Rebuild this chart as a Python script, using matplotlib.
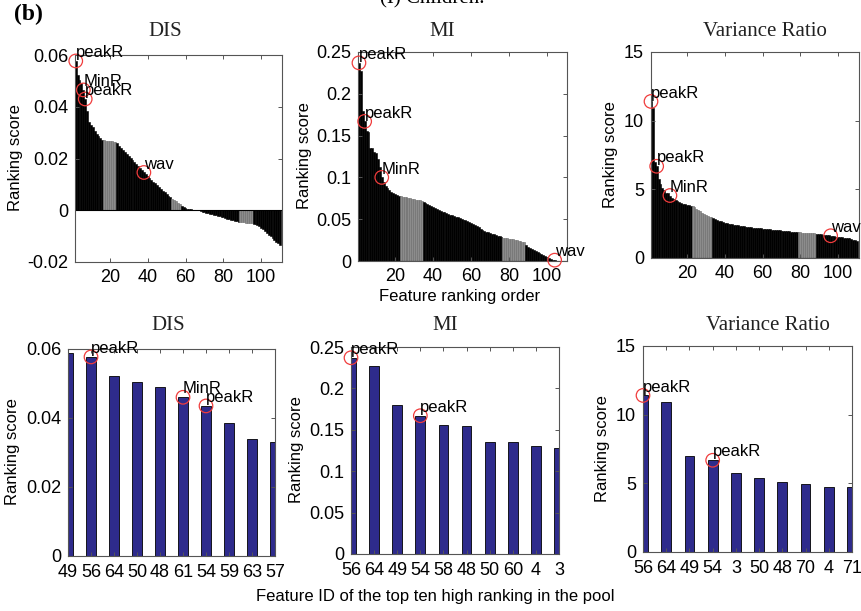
import numpy as np
import matplotlib
matplotlib.use('Agg')
import matplotlib.pyplot as plt

W, H = 862, 611

# ranking score of the whole feature pool, sorted (rank 1..110)
dis_scores = [
    0.0588, 0.0577, 0.0521, 0.0505, 0.0490, 0.0465, 0.0430, 0.0385, 0.0340, 0.0330,
    0.0322, 0.0308, 0.0296, 0.0287, 0.0279, 0.0273,
    0.0270, 0.0269, 0.0268, 0.0267, 0.0266, 0.0265, 0.0264,
    0.0258, 0.0250, 0.0242, 0.0234, 0.0226, 0.0218, 0.0210, 0.0202, 0.0194, 0.0186,
    0.0178, 0.0170, 0.0162, 0.0154, 0.0146, 0.0139, 0.0132, 0.0125, 0.0118, 0.0111,
    0.0104, 0.0097, 0.0090, 0.0083, 0.0076, 0.0069, 0.0062, 0.0056, 0.0050,
    0.0045, 0.0040, 0.0035, 0.0029, 0.0023,
    0.0018, 0.0013, 0.0009, 0.0006, 0.0004, 0.0003, 0.0002, 0.0001, 0.0001, 0.0000,
    -0.0003, -0.0006, -0.0008, -0.0010, -0.0012, -0.0014, -0.0016, -0.0018, -0.0020,
    -0.0022, -0.0024, -0.0026, -0.0028,
    -0.0030, -0.0032, -0.0034, -0.0036, -0.0038, -0.0040, -0.0042, -0.0044,
    -0.0045, -0.0046, -0.0047, -0.0048, -0.0049, -0.0050, -0.0051,
    -0.0053, -0.0055, -0.0058, -0.0062, -0.0067, -0.0073, -0.0080, -0.0087, -0.0094,
    -0.0101, -0.0108, -0.0115, -0.0122, -0.0128, -0.0134]
mi_scores = [
    0.2370, 0.2275, 0.1800, 0.1670, 0.1560, 0.1540, 0.1347, 0.1347, 0.1300, 0.1286,
    0.1220, 0.1120, 0.1000, 0.0940, 0.0900, 0.0870, 0.0850, 0.0830, 0.0810, 0.0800,
    0.0790, 0.0780,
    0.0775, 0.0770, 0.0765, 0.0760, 0.0755, 0.0750, 0.0745, 0.0740, 0.0735, 0.0730,
    0.0725, 0.0720,
    0.0705, 0.0692, 0.0680, 0.0668, 0.0656, 0.0645, 0.0634, 0.0623, 0.0612, 0.0601,
    0.0592, 0.0583, 0.0574, 0.0565, 0.0556, 0.0547, 0.0538, 0.0530, 0.0521, 0.0512,
    0.0503, 0.0494, 0.0485, 0.0476, 0.0467, 0.0458, 0.0444, 0.0430, 0.0416, 0.0402,
    0.0388, 0.0374, 0.0360, 0.0352, 0.0344, 0.0336, 0.0328, 0.0320, 0.0312, 0.0304,
    0.0296, 0.0288,
    0.0280, 0.0276, 0.0272, 0.0268, 0.0264, 0.0259, 0.0254, 0.0249, 0.0244, 0.0238,
    0.0232, 0.0226,
    0.0190, 0.0172, 0.0158, 0.0145, 0.0132, 0.0119, 0.0106, 0.0093, 0.0080, 0.0067,
    0.0055, 0.0044, 0.0034, 0.0025, 0.0017, 0.0010, 0.0005, 0.0002, 0.0, 0.0, 0.0, 0.0]
vr_scores = [
    11.40, 10.90, 7.00, 6.68, 5.73, 5.42, 5.08, 4.96, 4.74, 4.74,
    4.55, 4.40, 4.30, 4.20, 4.12, 4.06, 4.00, 3.96, 3.92, 3.88, 3.85, 3.82,
    3.78, 3.70, 3.60, 3.50, 3.40, 3.30, 3.22, 3.15, 3.08, 3.02, 2.96,
    2.90, 2.84, 2.78, 2.73, 2.68, 2.63, 2.58, 2.54, 2.50, 2.47,
    2.44, 2.41, 2.39, 2.37, 2.35, 2.33, 2.31, 2.29, 2.27, 2.25,
    2.23, 2.21, 2.19, 2.17, 2.16, 2.15, 2.14, 2.12, 2.11, 2.10,
    2.08, 2.07, 2.05, 2.04, 2.02, 2.01, 1.99, 1.98, 1.96, 1.95,
    1.93, 1.92, 1.90, 1.89, 1.88,
    1.87, 1.86, 1.85, 1.84, 1.83, 1.82, 1.81, 1.80, 1.79, 1.78,
    1.76, 1.74, 1.72, 1.70, 1.68, 1.66, 1.64, 1.62, 1.60, 1.58,
    1.56, 1.54, 1.52, 1.50, 1.48, 1.46, 1.44, 1.42, 1.38, 1.34, 1.30, 1.26]

# ranks drawn in grey (feature groups)
dis_grey = list(range(17, 24)) + list(range(53, 58)) + list(range(89, 96))
mi_grey = list(range(23, 35)) + list(range(77, 89))
vr_grey = list(range(23, 34)) + list(range(79, 89))

# marked features in the top row: (rank, label)
dis_marks = [(2, 'peakR'), (6, 'MinR'), (7, 'peakR'), (38, 'wav')]
mi_marks = [(1, 'peakR'), (4, 'peakR'), (13, 'MinR'), (104, 'wav')]
vr_marks = [(1, 'peakR'), (4, 'peakR'), (11, 'MinR'), (96, 'wav')]

# top ten of each measure
dis_ids = ['49', '56', '64', '50', '48', '61', '54', '59', '63', '57']
dis_top = [0.0588, 0.0577, 0.0521, 0.0505, 0.0490, 0.0460, 0.0435, 0.0385, 0.0340, 0.0330]
dis_top_marks = [(2, 'peakR'), (6, 'MinR'), (7, 'peakR')]
mi_ids = ['56', '64', '49', '54', '58', '48', '50', '60', '4', '3']
mi_top = [0.2370, 0.2275, 0.1800, 0.1670, 0.1560, 0.1540, 0.1347, 0.1347, 0.1300, 0.1286]
mi_top_marks = [(1, 'peakR'), (4, 'peakR')]
vr_ids = ['56', '64', '49', '54', '3', '50', '48', '70', '4', '71']
vr_top = [11.40, 10.90, 7.00, 6.68, 5.73, 5.42, 5.08, 4.96, 4.74, 4.74]
vr_top_marks = [(1, 'peakR'), (4, 'peakR')]

sans = 'Liberation Sans'
serif = 'Liberation Serif'
plt.rcParams['font.family'] = sans
plt.rcParams['axes.linewidth'] = 0.8
plt.rcParams['axes.edgecolor'] = '#555555'

fig = plt.figure(figsize=(W / 100, H / 100), dpi=100)


def box(l, t, r, b):
    return fig.add_axes([l / W, 1 - b / H, (r - l) / W, (b - t) / H])


def ftext(x, y, s, **kw):
    fig.text(x / W, 1 - y / H, s, **kw)


def style(ax):
    ax.tick_params(direction='in', length=3, width=0.7, color='#555555',
                   top=True, right=True, labelsize=13, pad=5)
    for lab in ax.get_xticklabels() + ax.get_yticklabels():
        lab.set_fontfamily(sans)


def mark(ax, x, y, label):
    ax.scatter([x], [y], s=95, facecolors='none', edgecolors='#f03c3c',
               linewidths=0.9, zorder=5, clip_on=False)
    ax.annotate(label, (x, y), xytext=(0, 6), textcoords='offset points',
                ha='left', va='center', fontsize=12, family=sans, zorder=6,
                annotation_clip=False)


def pool(ax, scores, grey, marks, xlim, ylim, yticks, ylabels):
    ranks = np.arange(1, len(scores) + 1)
    cols = ['#8c8c8c' if r in grey else 'black' for r in ranks]
    edges = ['#6a6a6a' if r in grey else 'black' for r in ranks]
    ax.bar(ranks, scores, width=1.0, color=cols, edgecolor=edges, linewidth=0.4)
    ax.axhline(0, color='black', lw=0.8)
    ax.set_xlim(*xlim)
    ax.set_ylim(*ylim)
    ax.set_xticks([20, 40, 60, 80, 100])
    ax.set_yticks(yticks)
    ax.set_yticklabels(ylabels)
    style(ax)
    for r, lab in marks:
        mark(ax, r, scores[r - 1], lab)


def topten(ax, vals, ids, marks, ylim, yticks, ylabels):
    pos = np.arange(1, len(vals) + 1)
    ax.bar(pos, vals, width=0.42, color='#2e2b8c', edgecolor='black', linewidth=0.6)
    ax.set_xlim(1, len(vals))
    ax.set_ylim(*ylim)
    ax.set_xticks(pos)
    ax.set_xticklabels(ids)
    ax.set_yticks(yticks)
    ax.set_yticklabels(ylabels)
    style(ax)
    ax.tick_params(axis='x', pad=6)
    for p, lab in marks:
        mark(ax, p, vals[p - 1], lab)


# top row: whole pool
a1 = box(75, 55, 282, 262)
pool(a1, dis_scores, dis_grey, dis_marks, (1.6, 111), (-0.02, 0.06),
     [-0.02, 0, 0.02, 0.04, 0.06], ['-0.02', '0', '0.02', '0.04', '0.06'])
a2 = box(358, 52, 567, 261)
pool(a2, mi_scores, mi_grey, mi_marks, (0.5, 110.5), (0, 0.25),
     [0, 0.05, 0.1, 0.15, 0.2, 0.25], ['0', '0.05', '0.1', '0.15', '0.2', '0.25'])
a3 = box(651, 52, 859, 258)
pool(a3, vr_scores, vr_grey, vr_marks, (1, 111), (0, 15),
     [0, 5, 10, 15], ['0', '5', '10', '15'])

# bottom row: top ten
b1 = box(68, 349, 275, 556)
topten(b1, dis_top, dis_ids, dis_top_marks, (0, 0.06),
       [0, 0.02, 0.04, 0.06], ['0', '0.02', '0.04', '0.06'])
b2 = box(351, 347, 559, 554)
topten(b2, mi_top, mi_ids, mi_top_marks, (0, 0.25),
       [0, 0.05, 0.1, 0.15, 0.2, 0.25], ['0', '0.05', '0.1', '0.15', '0.2', '0.25'])
b3 = box(643, 346, 852, 552)
topten(b3, vr_top, vr_ids, vr_top_marks, (0, 15),
       [0, 5, 10, 15], ['0', '5', '10', '15'])

# titles
for x, y, s in [(165, 31, 'DIS'), (442, 31, 'MI'), (765, 31, 'Variance Ratio'),
                (168, 326, 'DIS'), (445, 326, 'MI'), (768, 325, 'Variance Ratio')]:
    ftext(x, y, s, ha='center', va='center', fontsize=15, family=serif, color='#222222')

# y labels
for x, y in [(16, 158), (305, 156), (611, 155), (13, 452), (297, 450), (603, 449)]:
    ftext(x, y, 'Ranking score', rotation=90, ha='center', va='center', fontsize=12)

ftext(460, 297, 'Feature ranking order', ha='center', va='center', fontsize=12)
ftext(435, 596, 'Feature ID of the top ten high ranking in the pool',
      ha='center', va='center', fontsize=12)
ftext(28, 14, '(b)', ha='center', va='center', fontsize=17, family=serif,
      fontweight='bold')
# caption of the panel above, cut off by the page edge as in the source
ftext(432, 3, '(I) Children.', ha='center', va='baseline', fontsize=15, family=serif)

fig.savefig('out.png', dpi=100)
